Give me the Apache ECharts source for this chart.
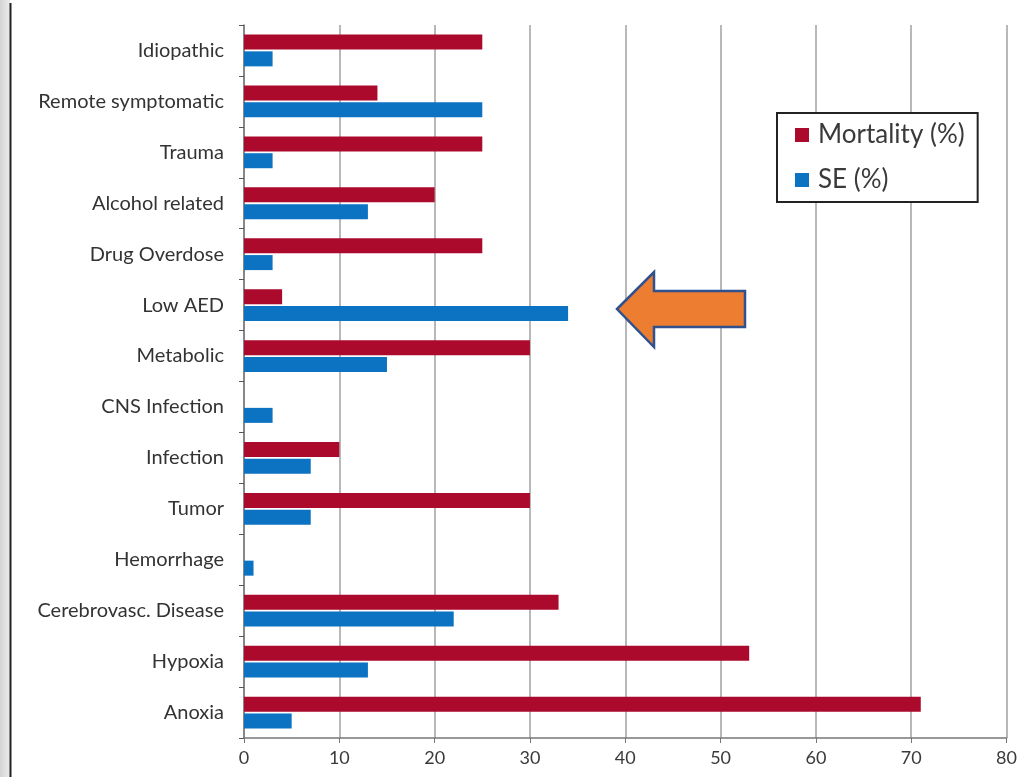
<!DOCTYPE html>
<html>
<head>
<meta charset="utf-8">
<title>Mortality and SE by etiology</title>
<script src="https://cdn.jsdelivr.net/npm/echarts@6/dist/echarts.min.js"></script>
<style>
  html, body { margin: 0; padding: 0; background: #fff; }
  #chart { width: 1020px; height: 777px; }
</style>
</head>
<body>
<div id="chart"></div>
<script>
// Etiologies, listed top to bottom
const categories = [
  'Idiopathic', 'Remote symptomatic', 'Trauma', 'Alcohol related',
  'Drug Overdose', 'Low AED', 'Metabolic', 'CNS Infection', 'Infection',
  'Tumor', 'Hemorrhage', 'Cerebrovasc. Disease', 'Hypoxia', 'Anoxia'
];
const mortality = [25, 14, 25, 20, 25, 4, 30, 0, 10, 30, 0, 33, 53, 71];
const se        = [3, 25, 3, 13, 3, 34, 15, 3, 7, 7, 1, 22, 13, 5];
const xTicks = [0, 10, 20, 30, 40, 50, 60, 70, 80];

const FONT = 'Lato, "DejaVu Sans", sans-serif';
const chart = echarts.init(document.getElementById('chart'));

chart.setOption({
  backgroundColor: '#ffffff',
  animation: false,
  textStyle: { fontFamily: FONT },
  grid: { left: 244, right: 10, top: 25, bottom: 39, containLabel: false },
  legend: {
    orient: 'vertical',
    left: 777,
    top: 113,
    backgroundColor: '#fff',
    borderColor: '#222',
    borderWidth: 2,
    padding: [9, 13, 9, 18],
    itemGap: 19,
    itemWidth: 14,
    itemHeight: 14,
    icon: 'rect',
    textStyle: { fontSize: 26, color: '#3a3a3a', fontFamily: FONT, padding: [0, 0, 0, 4] },
    data: ['Mortality (%)', 'SE (%)']
  },
  xAxis: {
    type: 'value',
    min: xTicks[0],
    max: xTicks[xTicks.length - 1],
    interval: 10,
    axisLine: { show: true, lineStyle: { color: '#777', width: 1.5 } },
    axisTick: { show: true, length: 5, lineStyle: { color: '#777' } },
    axisLabel: { fontSize: 18, color: '#3a3a3a', margin: 11 },
    splitLine: { show: true, lineStyle: { color: '#a0a0a0', width: 1.5 } }
  },
  yAxis: {
    type: 'category',
    inverse: true,
    data: categories,
    axisLine: { show: true, lineStyle: { color: '#777', width: 1.5 } },
    axisTick: { show: true, length: 5, inside: false, lineStyle: { color: '#555' } },
    axisLabel: { fontSize: 20, color: '#333', margin: 20 },
    splitLine: { show: false }
  },
  series: [
    {
      name: 'Mortality (%)',
      type: 'bar',
      data: mortality,
      barWidth: 15,
      barGap: '12%',
      itemStyle: { color: '#ab0a2d' }
    },
    {
      name: 'SE (%)',
      type: 'bar',
      data: se,
      barWidth: 15,
      itemStyle: { color: '#0c72c2' }
    }
  ],
  graphic: [
    // grey margin and dark rule down the left edge
    {
      type: 'rect',
      shape: { x: 0, y: 0, width: 10, height: 777 },
      style: {
        fill: new echarts.graphic.LinearGradient(0, 0, 1, 0, [
          { offset: 0, color: '#d4d4d4' },
          { offset: 1, color: '#ececec' }
        ])
      },
      silent: true
    },
    {
      type: 'line',
      shape: { x1: 10.5, y1: 3, x2: 10.5, y2: 777 },
      style: { stroke: '#222', lineWidth: 2 },
      silent: true
    },
    // callout arrow next to Low AED
    {
      type: 'polygon',
      shape: {
        points: [
          [617, 309], [654, 272], [654, 291], [745, 291],
          [745, 327], [654, 327], [654, 347]
        ]
      },
      style: { fill: '#ed7d31', stroke: '#2f528f', lineWidth: 2.5, lineJoin: 'miter' },
      z: 100,
      silent: true
    }
  ]
});
</script>
</body>
</html>
